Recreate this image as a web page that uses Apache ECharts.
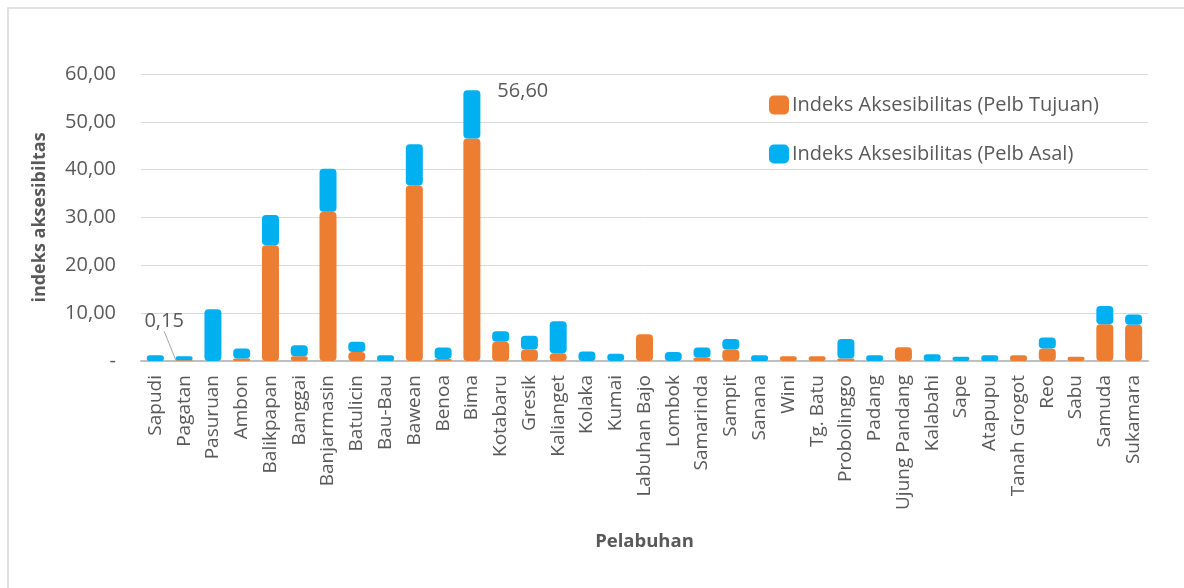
<!DOCTYPE html>
<html>
<head>
<meta charset="utf-8">
<script src="https://cdn.jsdelivr.net/npm/echarts@6/dist/echarts.min.js"></script>
<style>html,body{margin:0;padding:0;background:#fff}#c{width:1184px;height:588px}</style>
</head>
<body>
<div id="c"></div>
<script>
var categories = ['Sapudi','Pagatan','Pasuruan','Ambon','Balikpapan','Banggai','Banjarmasin','Batulicin','Bau-Bau','Bawean','Benoa','Bima','Kotabaru','Gresik','Kalianget','Kolaka','Kumai','Labuhan Bajo','Lombok','Samarinda','Sampit','Sanana','Wini','Tg. Batu','Probolinggo','Padang','Ujung Pandang','Kalabahi','Sape','Atapupu','Tanah Grogot','Reo','Sabu','Samuda','Sukamara'];
var tujuan = [0, 0.15, 0, 0.5, 24.2, 1.0, 31.2, 1.9, 0, 36.7, 0.4, 46.5, 4.0, 2.4, 1.6, 0, 0, 5.6, 0, 0.7, 2.4, 0, 1.0, 1.0, 0.5, 0, 2.9, 0, 0, 0, 1.2, 2.6, 0.9, 7.7, 7.6];
var asal = [1.2, 0.85, 10.8, 2.1, 6.3, 2.3, 9.0, 2.1, 1.2, 8.6, 2.4, 10.1, 2.2, 2.9, 6.7, 2.0, 1.5, 0, 1.9, 2.1, 2.2, 1.2, 0, 0, 4.1, 1.2, 0, 1.4, 0.9, 1.2, 0, 2.3, 0, 3.8, 2.1];
var yTicks = [0, 10, 20, 30, 40, 50, 60];
var seriesNames = ['Indeks Aksesibilitas (Pelb Tujuan)', 'Indeks Aksesibilitas (Pelb Asal)'];

function fmt(v){ return v.toFixed(2).replace('.', ','); }
var FONT = 'Open Sans';
var GREY = '#595959';

var tujuanData = tujuan.map(function(v, i){
  if (i === 1) {
    return {value: v, label: {show: true, position: 'top', formatter: fmt(v), color: GREY, fontSize: 20, fontFamily: FONT},
            labelLine: {show: true, lineStyle: {color: '#a6a6a6', width: 1}}};
  }
  return v;
});
var asalData = asal.map(function(v, i){
  if (i === 11) {
    return {value: v, label: {show: true, position: [34, 1], verticalAlign: 'middle', align: 'left',
            formatter: fmt(tujuan[i] + asal[i]), color: GREY, fontSize: 20, fontFamily: FONT}};
  }
  return v;
});

var chart = echarts.init(document.getElementById('c'), null, {renderer: 'canvas'});
chart.setOption({
  animation: false,
  backgroundColor: '#fff',
  graphic: [{type: 'rect', shape: {x: 8, y: 8, width: 1300, height: 700}, style: {fill: 'none', stroke: '#d9d9d9', lineWidth: 1.5}, silent: true}],
  grid: {left: 141, right: 36, top: 74, bottom: 227, containLabel: false},
  legend: {
    orient: 'vertical', left: 769, top: 95, padding: 0, itemWidth: 20, itemHeight: 19, itemGap: 29,
    icon: 'roundRect',
    textStyle: {color: GREY, fontSize: 20, fontFamily: FONT, padding: [0, 0, 0, -2]},
    data: seriesNames
  },
  xAxis: {
    type: 'category', data: categories,
    name: 'Pelabuhan', nameLocation: 'middle', nameGap: 171,
    nameTextStyle: {color: GREY, fontSize: 18.5, fontWeight: 'bold', fontFamily: FONT},
    axisLine: {lineStyle: {color: '#bfbfbf', width: 2}},
    axisTick: {show: false},
    axisLabel: {rotate: 90, interval: 0, color: GREY, fontSize: 19, fontFamily: FONT, margin: 14}
  },
  yAxis: {
    type: 'value', min: 0, max: 60, interval: 10,
    name: 'indeks aksesibiltas', nameLocation: 'middle', nameGap: 92, nameRotate: 90,
    nameTextStyle: {color: GREY, fontSize: 18, fontWeight: 'bold', fontFamily: FONT},
    axisLine: {show: false}, axisTick: {show: false},
    splitLine: {lineStyle: {color: '#d9d9d9', width: 1}},
    axisLabel: {color: GREY, fontSize: 20, fontFamily: FONT, margin: 25,
      formatter: function(v){ return v === 0 ? '-' : fmt(v); }}
  },
  series: [
    {name: seriesNames[0], type: 'bar', stack: 'a', data: tujuanData, barWidth: 17,
     itemStyle: {color: '#ED7D31', borderRadius: 4},
     labelLayout: function(p){ return p.dataIndex === 1 ? {dx: -20, dy: -24} : {}; }},
    {name: seriesNames[1], type: 'bar', stack: 'a', data: asalData, barWidth: 17,
     itemStyle: {color: '#00B0F0', borderRadius: 4}}
  ]
});
</script>
</body>
</html>
